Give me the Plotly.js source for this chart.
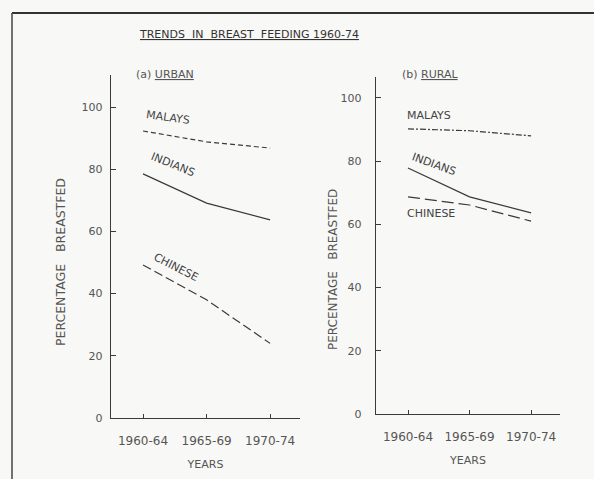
<!DOCTYPE html>
<html>
<head>
<meta charset="utf-8">
<script src="https://cdn.plot.ly/plotly-3.0.1.min.js"></script>
<style>html,body{margin:0;padding:0;background:#f8f8f6;}#chart{width:594px;height:479px;}</style>
</head>
<body>
<div id="chart"></div>
<script>
const periods = ["1960-64", "1965-69", "1970-74"];
const urbanMalays = [92.3, 88.8, 86.8];
const urbanIndians = [78.5, 69.1, 63.7];
const urbanChinese = [49.2, 38.0, 24.0];
const ruralMalays = [90.2, 89.6, 88.0];
const ruralIndians = [77.8, 68.7, 63.6];
const ruralChinese = [68.7, 66.1, 61.0];
const yTicks = [0, 20, 40, 60, 80, 100];

const ink = '#3a3a3a';
const idx = periods.map((_, i) => i);
function tr(y, dash, xa, ya) {
  return {x: idx, y: y, type: 'scatter', mode: 'lines', xaxis: xa, yaxis: ya,
    line: {color: ink, width: 1.2, dash: dash}, showlegend: false, hoverinfo: 'skip'};
}
const data = [
  tr(urbanMalays, '5px,3px', 'x', 'y'),
  tr(urbanIndians, 'solid', 'x', 'y'),
  tr(urbanChinese, '9px,4px', 'x', 'y'),
  tr(ruralMalays, '6px,2px,2px,2px', 'x2', 'y2'),
  tr(ruralIndians, 'solid', 'x2', 'y2'),
  tr(ruralChinese, '12px,5px', 'x2', 'y2')
];
const fam = 'DejaVu Sans, sans-serif';
const fnt = {family: fam, size: 11, color: '#555'};
const xfnt = {family: fam, size: 12, color: '#555'};
function xax(domain, range) {
  return {domain: domain, range: range, tickvals: idx, ticktext: periods, showgrid: false, zeroline: false,
    showline: true, linecolor: ink, linewidth: 1.3, ticks: 'inside', ticklen: 4, tickcolor: ink,
    tickfont: xfnt, ticklabelstandoff: 11, fixedrange: true,
    title: {text: 'YEARS', font: fnt, standoff: 13}};
}
function yax(domain, range, anchor, lstand) {
  return {domain: domain, range: range, tickvals: yTicks, showgrid: false, zeroline: false, anchor: anchor,
    showline: true, linecolor: ink, linewidth: 1.3, ticks: 'inside', ticklen: 5, tickcolor: ink,
    tickfont: fnt, ticklabelstandoff: lstand, fixedrange: true};
}
function ann(text, xref, yref, x, y, ang) {
  return {text: text, xref: xref, yref: yref, x: x, y: y, textangle: ang, showarrow: false,
    font: {family: fam, size: 11, color: '#444'}, xanchor: 'left', yanchor: 'middle'};
}
const ytitle = 'PERCENTAGE&nbsp;&nbsp;&nbsp;BREASTFED';
const layout = {
  width: 594, height: 479,
  margin: {l: 0, r: 0, t: 0, b: 0},
  paper_bgcolor: '#f8f8f6', plot_bgcolor: 'rgba(0,0,0,0)',
  xaxis: xax([111/594, 300/594], [-0.504, 2.47]),
  yaxis: yax([(479-418)/479, (479-75)/479], [0, 110.3], 'x', 5),
  xaxis2: Object.assign(xax([376/594, 560/594], [-0.52, 2.47]), {anchor: 'y2'}),
  yaxis2: yax([(479-414)/479, (479-77)/479], [0, 106.6], 'x2', 11),
  annotations: [
    {text: '<u>TRENDS  IN  BREAST  FEEDING 1960-74</u>', xref: 'paper', yref: 'paper', x: 249/594, y: 1-35/479,
      yanchor: 'middle', showarrow: false, font: {family: fam, size: 11, color: '#333'}},
    {text: '(a) <u>URBAN</u>', xref: 'paper', yref: 'paper', x: 134/594, y: 1-74/479, xanchor: 'left',
      yanchor: 'middle', showarrow: false, font: {family: fam, size: 11, color: '#555'}},
    {text: '(b) <u>RURAL</u>', xref: 'paper', yref: 'paper', x: 400/594, y: 1-74/479, xanchor: 'left',
      yanchor: 'middle', showarrow: false, font: {family: fam, size: 11, color: '#555'}},
    {text: ytitle, xref: 'paper', yref: 'paper', x: 60/594, y: 1-262/479, textangle: -90,
      xanchor: 'center', yanchor: 'middle', showarrow: false, font: {family: fam, size: 12.5, color: '#555'}},
    {text: ytitle, xref: 'paper', yref: 'paper', x: 333/594, y: 1-269/479, textangle: -90,
      xanchor: 'center', yanchor: 'middle', showarrow: false, font: {family: fam, size: 12, color: '#555'}},
    ann('MALAYS', 'x', 'y', 0.0, 96.5, 8),
    ann('INDIANS', 'x', 'y', 0.05, 81.5, 22),
    ann('CHINESE', 'x', 'y', 0.1, 48.5, 27),
    ann('MALAYS', 'x2', 'y2', -0.05, 94.5, 0),
    ann('INDIANS', 'x2', 'y2', 0.0, 79, 20),
    ann('CHINESE', 'x2', 'y2', -0.05, 63.5, 0)
  ],
  shapes: [
    {type: 'line', xref: 'paper', yref: 'paper', x0: 12/594, x1: 1, y0: 1-13/479, y1: 1-13/479,
      line: {color: '#333', width: 2}},
    {type: 'line', xref: 'paper', yref: 'paper', x0: 12/594, x1: 12/594, y0: 0, y1: 1-13/479,
      line: {color: '#444', width: 1.5}}
  ]
};
Plotly.newPlot('chart', data, layout, {staticPlot: true, displayModeBar: false});
</script>
</body>
</html>
